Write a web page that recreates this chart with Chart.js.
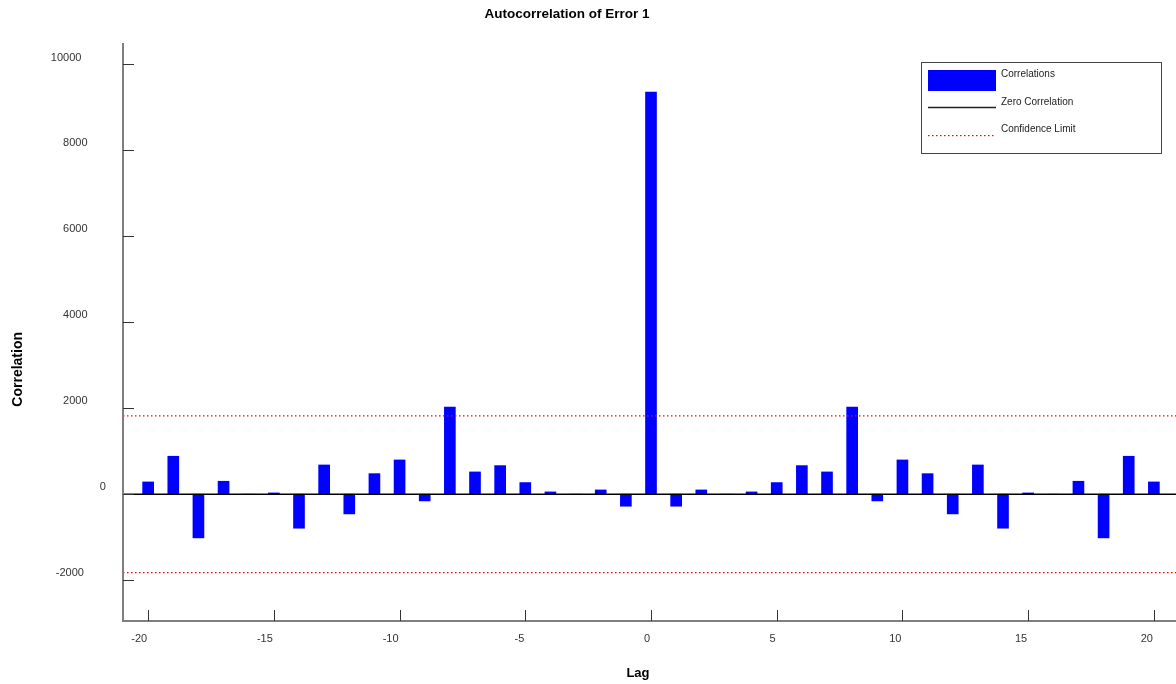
<!DOCTYPE html>
<html><head><meta charset="utf-8">
<script src="https://cdn.jsdelivr.net/npm/chart.js@4.4.0/dist/chart.umd.min.js"></script>
<style>html,body{margin:0;padding:0;background:#fff;overflow:hidden}canvas{display:block}</style>
</head><body>
<canvas id="c" width="1176" height="684"></canvas>
<script>
const lags = [-20,-19,-18,-17,-16,-15,-14,-13,-12,-11,-10,-9,-8,-7,-6,-5,-4,-3,-2,-1,0,1,2,3,4,5,6,7,8,9,10,11,12,13,14,15,16,17,18,19,20];
const correlations = [286,884,-1016,302,0,30,-791,681,-458,479,798,-156,2030,519,666,271,54,0,100,-279,
  9356,
  -279,100,0,54,271,666,519,2030,-156,798,479,-458,681,-791,30,0,302,-1016,884,286];
const confidenceLimit = 1822;
const xRange = [-21, 20.88];
const yRange = [-2950, 10500];
const xTicks = [-20,-15,-10,-5,0,5,10,15,20];
const yTicks = [-2000,0,2000,4000,6000,8000,10000];
const legendLabels = ['Correlations','Zero Correlation','Confidence Limit'];
const titleText = 'Autocorrelation of Error 1';
const xTitle = 'Lag';
const yTitle = 'Correlation';

const FONT = '"Liberation Sans", Arial, Helvetica, sans-serif';
const RED = 'rgb(255,0,0)';

const decor = {
  id: 'decor',
  afterDraw(chart) {
    const ctx = chart.ctx;
    const xs = chart.scales.x, ys = chart.scales.y;
    const a = chart.chartArea;
    ctx.save();
    // axis lines
    ctx.strokeStyle = '#7f7f7f';
    ctx.lineWidth = 2;
    ctx.beginPath();
    ctx.moveTo(a.left, a.top); ctx.lineTo(a.left, a.bottom + 1);
    ctx.moveTo(a.left, a.bottom); ctx.lineTo(a.right, a.bottom);
    ctx.stroke();
    // ticks
    ctx.strokeStyle = '#333';
    ctx.lineWidth = 1;
    ctx.beginPath();
    xTicks.forEach(v => {
      const px = Math.round(xs.getPixelForValue(v)) + 0.5;
      ctx.moveTo(px, a.bottom); ctx.lineTo(px, a.bottom - 11);
    });
    yTicks.forEach(v => {
      const py = Math.round(ys.getPixelForValue(v)) + 0.5;
      ctx.moveTo(a.left, py); ctx.lineTo(a.left + 11, py);
    });
    ctx.stroke();
    // tick labels
    ctx.fillStyle = '#333';
    ctx.font = '11px ' + FONT;
    ctx.textBaseline = 'middle';
    ctx.textAlign = 'right';
    xTicks.forEach(v => {
      const px = xs.getPixelForValue(v);
      ctx.fillText(String(v), px - 1, 639);
    });
    yTicks.forEach(v => {
      const py = ys.getPixelForValue(v);
      const s = String(v);
      const w = ctx.measureText(s).width;
      ctx.fillText(s, 112 - w, py - 7);
    });
    // titles
    ctx.fillStyle = '#000';
    ctx.textAlign = 'right';
    const cx = (a.left + a.right) / 2;
    ctx.font = 'bold 13.5px ' + FONT;
    ctx.fillText(titleText, cx, 14);
    ctx.font = 'bold 13px ' + FONT;
    ctx.fillText(xTitle, cx, 673);
    ctx.save();
    ctx.font = 'bold 14px ' + FONT;
    ctx.translate(18, (a.top + a.bottom) / 2);
    ctx.rotate(-Math.PI / 2);
    ctx.textAlign = 'right';
    ctx.fillText(yTitle, 0, 0);
    ctx.restore();
    // legend
    ctx.fillStyle = '#fff';
    ctx.fillRect(921, 62, 240, 91);
    ctx.strokeStyle = '#444';
    ctx.lineWidth = 1;
    ctx.strokeRect(921.5, 62.5, 240, 91);
    ctx.fillStyle = '#0000ff';
    ctx.fillRect(928, 70, 68, 21);
    ctx.strokeStyle = '#222';
    ctx.lineWidth = 1.5;
    ctx.beginPath(); ctx.moveTo(928, 107.5); ctx.lineTo(996, 107.5); ctx.stroke();
    ctx.fillStyle = RED;
    for (let x = 928; x < 996; x += 4) ctx.fillRect(x, 135, 1.5, 1.2);
    ctx.fillStyle = '#222';
    ctx.font = '10px ' + FONT;
    ctx.textAlign = 'left';
    ctx.fillText(legendLabels[0], 1001, 74.5);
    ctx.fillText(legendLabels[1], 1001, 102);
    ctx.fillText(legendLabels[2], 1001, 129.5);
    ctx.restore();
  }
};

new Chart(document.getElementById('c'), {
  type: 'bar',
  data: {
    datasets: [
      {
        type: 'line',
        label: 'Zero Correlation',
        data: [{x: xRange[0], y: 0}, {x: xRange[1], y: 0}],
        borderColor: '#000',
        borderWidth: 1.5,
        pointRadius: 0,
        order: 1
      },
      {
        type: 'line',
        label: 'Confidence Limit',
        data: [{x: xRange[0], y: confidenceLimit}, {x: xRange[1], y: confidenceLimit}],
        borderColor: RED,
        borderWidth: 1.3,
        borderDash: [1.5, 2.5],
        pointRadius: 0,
        order: 1
      },
      {
        type: 'line',
        label: 'Confidence Limit (lower)',
        data: [{x: xRange[0], y: -confidenceLimit}, {x: xRange[1], y: -confidenceLimit}],
        borderColor: RED,
        borderWidth: 1.3,
        borderDash: [1.5, 2.5],
        pointRadius: 0,
        order: 1
      },
      {
        label: 'Correlations',
        data: lags.map((l, i) => ({x: l, y: correlations[i]})),
        backgroundColor: '#0000ff',
        borderWidth: 0,
        barThickness: 11,
        order: 2
      }
    ]
  },
  options: {
    responsive: false,
    animation: false,
    devicePixelRatio: 1,
    layout: { padding: { left: 123, top: 43, right: 0, bottom: 63 } },
    plugins: { legend: { display: false }, tooltip: { enabled: false }, title: { display: false } },
    scales: {
      x: { type: 'linear', min: xRange[0], max: xRange[1], display: false, offset: false },
      y: { type: 'linear', min: yRange[0], max: yRange[1], display: false }
    }
  },
  plugins: [decor]
});
</script>
</body></html>
